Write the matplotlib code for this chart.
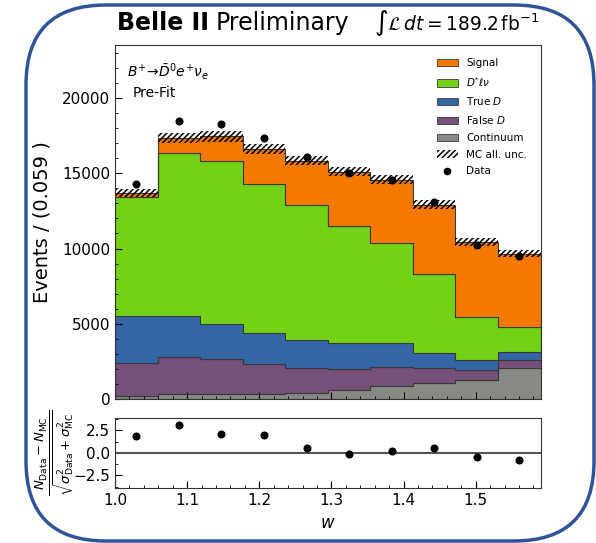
import numpy as np
import matplotlib
matplotlib.use("Agg")
import matplotlib.pyplot as plt
from matplotlib.patches import Patch, FancyBboxPatch
from matplotlib.lines import Line2D
from matplotlib.ticker import AutoMinorLocator, MultipleLocator

plt.rcParams["hatch.linewidth"] = 1.1

# Binning in the recoil variable w
bin_edges = np.round(1.0 + 0.059 * np.arange(11), 3)

# Stacked MC templates (events per bin), bottom to top
continuum = [220, 330, 330, 330, 400, 615, 900, 1060, 1280, 2050]
false_d   = [2160, 2490, 2320, 2010, 1690, 1390, 1220, 990, 660, 550]
true_d    = [3130, 2690, 2320, 2050, 1850, 1700, 1590, 1030, 660, 510]
dstar_lnu = [7900, 10840, 10830, 9910, 8960, 7790, 6690, 5210, 2830, 1700]
signal    = [290, 990, 1650, 2290, 2940, 3600, 4170, 4630, 5000, 4860]
mc_unc    = [280, 340, 360, 330, 330, 310, 300, 320, 270, 230]

# Observed data
data = [14250, 18490, 18230, 17320, 16060, 15030, 14560, 13080, 10260, 9510]

# Pulls shown in the lower panel
pulls = [1.86, 3.08, 2.04, 1.93, 0.56, -0.18, 0.15, 0.56, -0.52, -0.81]

components = [
    ("Continuum", continuum, "#888a85"),
    ("False $D$", false_d, "#75507b"),
    ("True $D$", true_d, "#3465a4"),
    (r"$D^{*}\ell\nu$", dstar_lnu, "#73d216"),
    ("Signal", signal, "#f57900"),
]

centers = 0.5 * (bin_edges[:-1] + bin_edges[1:])

fig = plt.figure(figsize=(5.96, 5.43), dpi=100)
ax = fig.add_axes([0.193, 0.2647, 0.714, 0.6523])
axp = fig.add_axes([0.193, 0.1007, 0.714, 0.1301], sharex=ax)

# Stacked histogram
bottom = np.zeros(len(centers))
for name, vals, col in components:
    top = bottom + np.asarray(vals, dtype=float)
    ax.stairs(top, bin_edges, baseline=bottom, fill=True, facecolor=col,
              edgecolor="#3a3a3a", linewidth=0.8)
    bottom = top
total = bottom

unc = np.asarray(mc_unc, dtype=float)
ax.stairs(total + unc, bin_edges, baseline=total - unc, fill=True,
          facecolor="none", edgecolor="black", hatch="//////", linewidth=0)

data_arr = np.asarray(data, dtype=float)
ax.errorbar(centers, data_arr, yerr=np.sqrt(data_arr), fmt="o", color="black",
            markersize=4.8, elinewidth=1, capsize=0, zorder=5)

ax.set_xlim(1.0, 1.59)
ax.set_ylim(0, 23500)
ax.yaxis.set_major_locator(MultipleLocator(5000))
ax.yaxis.set_minor_locator(MultipleLocator(1000))
ax.xaxis.set_major_locator(MultipleLocator(0.1))
ax.xaxis.set_minor_locator(MultipleLocator(0.02))
ax.tick_params(axis="both", which="both", direction="in", labelsize=11,
               top=False, right=False)
ax.tick_params(axis="both", which="major", length=5)
ax.tick_params(axis="both", which="minor", length=2.5)
ax.tick_params(axis="x", labelbottom=False)
ax.set_ylabel("Events / (0.059 )", fontsize=14)
ax.yaxis.set_label_coords(-0.15, 0.5)

ax.text(0.028, 0.955, r"$B^{+}\!\rightarrow\!\bar{D}^{0}e^{+}\nu_{e}$",
        transform=ax.transAxes, fontsize=10, va="top", ha="left")
ax.text(0.042, 0.885, "Pre-Fit", transform=ax.transAxes, fontsize=10,
        va="top", ha="left")

handles = [Patch(facecolor=c, edgecolor="#3a3a3a", linewidth=0.6)
           for _, _, c in components[::-1]]
labels = [n for n, _, _ in components[::-1]]
handles.append(Patch(facecolor="none", edgecolor="black", hatch="//////",
                     linewidth=0))
labels.append("MC all. unc.")
handles.append(Line2D([], [], marker="o", color="black", markersize=4.5,
                      linestyle="none"))
labels.append("Data")
ax.legend(handles, labels, loc="upper right", frameon=False, fontsize=7.5,
          labelspacing=0.65, bbox_to_anchor=(0.99, 0.99))

# Pull panel
axp.axhline(0, color="#555555", linewidth=1.5)
axp.plot(centers, pulls, "o", color="black", markersize=4.8)
axp.set_ylim(-3.95, 3.9)
axp.yaxis.set_major_locator(MultipleLocator(2.5))
axp.yaxis.set_minor_locator(AutoMinorLocator(2))
axp.tick_params(axis="both", which="both", direction="in", labelsize=11,
                top=False, right=False)
axp.tick_params(axis="both", which="major", length=5)
axp.tick_params(axis="both", which="minor", length=2.5)
axp.set_xlabel("$w$", fontsize=12)
axp.set_ylabel(r"$\frac{N_{\mathrm{Data}}-N_{\mathrm{MC}}}"
               r"{\sqrt{\sigma^{2}_{\mathrm{Data}}+\sigma^{2}_{\mathrm{MC}}}}$",
               fontsize=13.5)
axp.yaxis.set_label_coords(-0.092, 0.5)

for a in (ax, axp):
    for s in a.spines.values():
        s.set_color("#333333")

# Header
y_head = 1 - 30 / 543
fig.text(117 / 596, y_head, "Belle II", fontsize=17, fontweight="bold",
         ha="left", va="baseline")
fig.text(216 / 596, y_head, "Preliminary", fontsize=17,
         ha="left", va="baseline")
fig.text(540 / 596, y_head,
         r"$\int\mathcal{L}\,dt = 189.2\,\mathrm{fb}^{-1}$", fontsize=13.4,
         ha="right", va="baseline")

# Rounded frame around the figure
frame = FancyBboxPatch((0.26, 0.02), 5.68, 5.36,
                       boxstyle="round,pad=0,rounding_size=0.8",
                       transform=fig.dpi_scale_trans, facecolor="none",
                       edgecolor="#2f5597", linewidth=2.5, zorder=-1)
fig.patches.append(frame)

fig.savefig("out.png", dpi=100)
